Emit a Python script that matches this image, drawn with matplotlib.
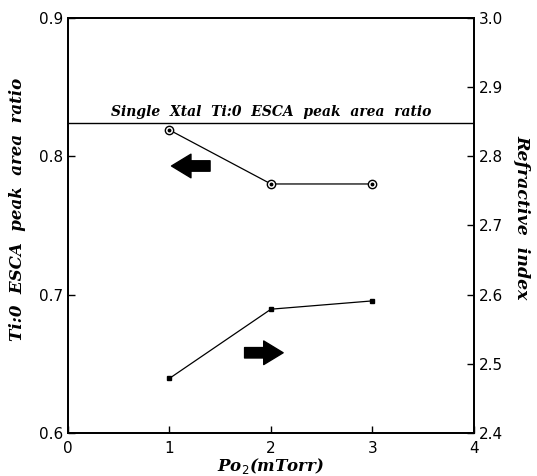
import matplotlib
matplotlib.use("Agg")
import matplotlib.pyplot as plt

# Po2 values (mTorr)
po2 = [1, 2, 3]
# Ti:O ESCA peak area ratio (left axis)
ratio = [0.819, 0.780, 0.780]
# refractive index (right axis)
n_index = [2.479, 2.579, 2.591]
# single crystal reference ratio
xtal_ratio = 0.824

xticks = [0, 1, 2, 3, 4]
yticks_left = [0.6, 0.7, 0.8, 0.9]
yticks_right = [2.4, 2.5, 2.6, 2.7, 2.8, 2.9, 3.0]

serif = dict(family="DejaVu Serif", style="italic", weight="bold")

fig = plt.figure(figsize=(5.37, 4.76), dpi=100)
ax = fig.add_axes([0.1266, 0.0903, 0.756, 0.872])
ax2 = ax.twinx()

ax.set_xlim(0, 4)
ax.set_ylim(0.6, 0.9)
ax2.set_ylim(2.4, 3.0)

ax.set_xticks(xticks)
ax.set_xticklabels([str(v) for v in xticks])
ax.set_yticks(yticks_left)
ax.set_yticklabels([f"{v:.1f}" for v in yticks_left])
ax2.set_yticks(yticks_right)
ax2.set_yticklabels([f"{v:.1f}" for v in yticks_right])

for a in (ax, ax2):
    a.tick_params(direction="in", length=5, width=1, labelsize=11)
    for s in a.spines.values():
        s.set_linewidth(1.3)
ax.tick_params(axis="x", pad=6)

# reference line for single crystal
ax.axhline(xtal_ratio, color="black", lw=1)
ax.text(2.0, xtal_ratio + 0.003, "Single  Xtal  Ti:0  ESCA  peak  area  ratio",
        ha="center", va="bottom", fontsize=10, **serif)

# ESCA ratio: open circles with centre dot
ax.plot(po2, ratio, color="black", lw=0.9, marker="o", ms=6,
        mfc="white", mec="black", mew=1)
ax.plot(po2, ratio, ls="none", marker="o", ms=1.8, color="black")

# refractive index: small filled squares
ax2.plot(po2, n_index, color="black", lw=0.9, marker="s", ms=3.5)

# block arrows showing which axis each curve belongs to
arrow = dict(arrowstyle="simple,head_length=1.4,head_width=1.7,tail_width=0.75",
             color="black", shrinkA=0, shrinkB=0)
ax.annotate("", xy=(1.02, 0.793), xytext=(1.40, 0.793), arrowprops=arrow)
ax.annotate("", xy=(2.12, 0.658), xytext=(1.74, 0.658), arrowprops=arrow)

ax.set_xlabel("Po$_2$(mTorr)", fontsize=12, labelpad=0, **serif)
ax.set_ylabel("Ti:0  ESCA  peak  area  ratio", fontsize=12, labelpad=9, **serif)
ax2.set_ylabel("Refractive  index", fontsize=12.5, rotation=270, labelpad=20, **serif)
ax.yaxis.label.set_y(0.54)
ax2.yaxis.label.set_y(0.52)

fig.savefig("out.png", dpi=100)
